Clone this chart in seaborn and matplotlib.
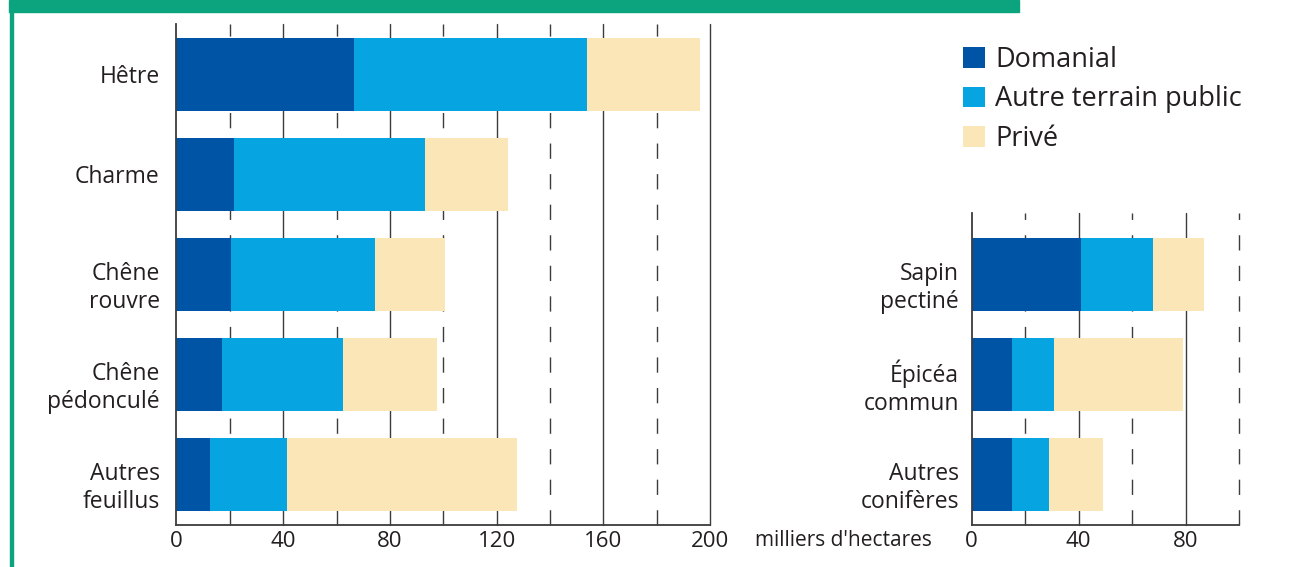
import matplotlib
matplotlib.use("Agg")
import matplotlib.pyplot as plt
from matplotlib.patches import Patch, Rectangle
from matplotlib.transforms import ScaledTranslation
import seaborn as sns
import pandas as pd
import numpy as np

# ---------------- data (milliers d'hectares) ----------------
feuillus = ["Hêtre", "Charme", "Chêne\nrouvre", "Chêne\npédonculé", "Autres\nfeuillus"]
feuillus_domanial = [66.5, 21.4, 20.4, 17.1, 12.6]
feuillus_autre_public = [87.4, 71.7, 54.0, 45.3, 28.8]
feuillus_prive = [42.3, 31.1, 26.2, 35.2, 86.2]

coniferes = ["Sapin\npectiné", "Épicéa\ncommun", "Autres\nconifères"]
coniferes_domanial = [41.0, 15.1, 15.1]
coniferes_autre_public = [27.0, 15.8, 14.0]
coniferes_prive = [19.1, 48.0, 20.2]

series_names = ["Domanial", "Autre terrain public", "Privé"]
colors = ["#0054a6", "#06a4e0", "#fae6b6"]

left_ticks = [0, 40, 80, 120, 160, 200]
right_ticks = [0, 40, 80]
unit_label = "milliers d'hectares"

GREEN = "#0ca37f"
GRID = "#3c3c3c"
TEXT = "#231f20"

sns.set_theme(style="white")
plt.rcParams["font.family"] = ["Open Sans", "DejaVu Sans"]

W, H = 1309, 567
fig = plt.figure(figsize=(W / 100, H / 100), dpi=100)

# decorative frame: green band and left border
fig.patches.append(Rectangle((9 / W, 1 - 12 / H), (1019 - 9) / W, 12 / H,
                             transform=fig.transFigure, color=GREEN, zorder=0))
fig.patches.append(Rectangle((9.5 / W, 0), 3 / W, 1,
                             transform=fig.transFigure, color=GREEN, zorder=0))


def px_box(x0, x1, ytop, ybot):
    return [x0 / W, 1 - ybot / H, (x1 - x0) / W, (ybot - ytop) / H]


def draw_panel(ax, cats, dom, aut, pri, xmax, ylim, ticks, ypad):
    dom = np.array(dom)
    aut = np.array(aut)
    pri = np.array(pri)
    df = pd.DataFrame({"cat": cats, "dom": dom, "dom_aut": dom + aut,
                       "total": dom + aut + pri})
    # grid lines (behind bars)
    for v in np.arange(20, xmax + 1, 20):
        if v % 40 == 0:
            ax.axvline(v, color=GRID, lw=1.0, zorder=0, clip_on=False)
        else:
            ax.axvline(v, color=GRID, lw=1.0, ls=(0, (11, 11)), zorder=0,
                       clip_on=False)
    for col, c in zip(["total", "dom_aut", "dom"], colors[::-1]):
        sns.barplot(data=df, x=col, y="cat", orient="h", color=c,
                    width=0.73, saturation=1, ax=ax, zorder=2,
                    linewidth=0, edgecolor="none")
    ax.set_xlim(0, xmax)
    ax.set_ylim(*ylim)
    ax.set_xticks(ticks)
    ax.set_xticklabels([str(t) for t in ticks])
    ax.set_xlabel("")
    ax.set_ylabel("")
    for s in ["top", "right"]:
        ax.spines[s].set_visible(False)
    for s in ["left", "bottom"]:
        ax.spines[s].set_color(GRID)
        ax.spines[s].set_linewidth(1.3)
        ax.spines[s].set_zorder(3)
    ax.tick_params(axis="x", length=0, pad=4, labelsize=16, labelcolor=TEXT)
    ax.tick_params(axis="y", length=0, pad=ypad, labelsize=16.5, labelcolor=TEXT)
    for lab in ax.get_yticklabels():
        lab.set_linespacing(1.22)
        lab.set_horizontalalignment("right")
        if "\n" in lab.get_text():
            lab.set_transform(lab.get_transform() +
                              ScaledTranslation(0, -9 / 100, fig.dpi_scale_trans))


ax1 = fig.add_axes(px_box(176.5, 710, 24, 525))
draw_panel(ax1, feuillus, feuillus_domanial, feuillus_autre_public, feuillus_prive,
           200, (4.51, -0.5), left_ticks, 12)

ax2 = fig.add_axes(px_box(971.5, 1239, 213, 525))
draw_panel(ax2, coniferes, coniferes_domanial, coniferes_autre_public, coniferes_prive,
           100, (2.51, -0.61), right_ticks, 9)

fig.text(755 / W, 1 - 540 / H, unit_label, fontsize=15, color=TEXT,
         ha="left", va="center")

handles = [Patch(facecolor=c, edgecolor="none") for c in colors]
fig.legend(handles, series_names, loc="upper left",
           bbox_to_anchor=(963 / W, 1 - 46 / H), frameon=False, fontsize=19.5,
           handlelength=0.81, handleheight=0.81, handletextpad=0.37,
           labelspacing=0.42, borderaxespad=0, borderpad=0,
           labelcolor=TEXT)

fig.savefig("out.png", dpi=100)
